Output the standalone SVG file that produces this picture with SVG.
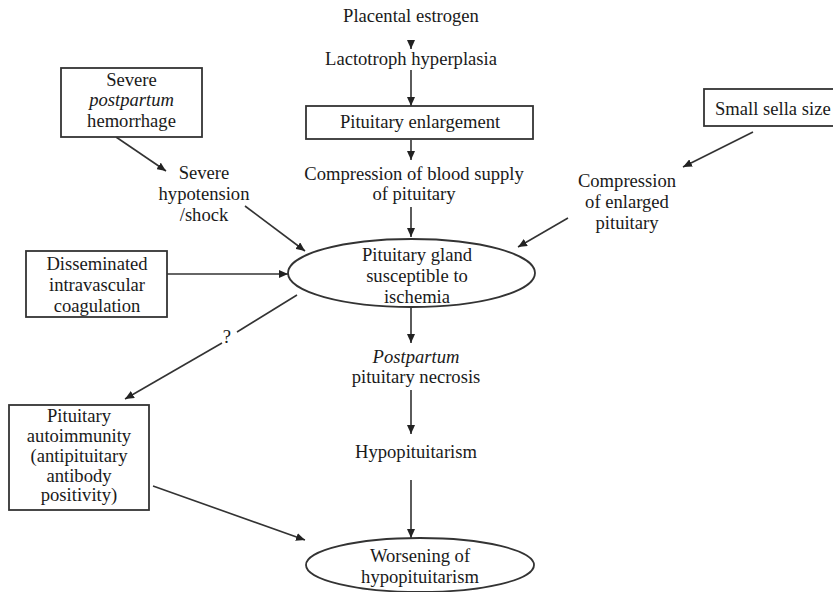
<svg xmlns="http://www.w3.org/2000/svg" width="833" height="592" viewBox="0 0 833 592">
<style>
text{font-family:"Liberation Serif","Times New Roman",serif;font-size:18.6px;fill:#1a1a1a;text-anchor:middle}
.i{font-style:italic}
.box{fill:#fff;stroke:#333;stroke-width:1.8}
.ell{fill:#fff;stroke:#333;stroke-width:1.8}
.c line{stroke:#333;stroke-width:1.6;marker-end:url(#ah)}
.c line.n{marker-end:none}
</style>
<defs>
<marker id="ah" markerUnits="userSpaceOnUse" markerWidth="10" markerHeight="8" refX="9" refY="4" orient="auto">
<path d="M0,0 L9,4 L0,8 z" fill="#222"/>
</marker>
</defs>
<rect width="833" height="592" fill="#fff"/>
<g class="c" id="connectors">
<line x1="411" y1="40" x2="411" y2="49"/>
<line x1="411" y1="70" x2="411" y2="106"/>
<line x1="411" y1="140" x2="411" y2="160"/>
<line x1="411" y1="207" x2="411" y2="237"/>
<line x1="411" y1="308" x2="411" y2="343"/>
<line x1="411" y1="390" x2="411" y2="434"/>
<line x1="411" y1="480" x2="411" y2="538"/>
<line x1="116" y1="137" x2="166" y2="171"/>
<line x1="245" y1="206" x2="305" y2="251"/>
<line x1="167" y1="274" x2="288" y2="274"/>
<line x1="753" y1="132" x2="683" y2="167"/>
<line x1="568" y1="218" x2="518" y2="247"/>
<line class="n" x1="297" y1="295" x2="237" y2="332"/>
<line x1="222" y1="343" x2="125" y2="399"/>
<line x1="153" y1="486" x2="305" y2="540"/>
<text x="227" y="343">?</text>
</g>
<g id="placental"><text x="411" y="22">Placental estrogen</text></g>
<g id="lactotroph"><text x="411" y="65">Lactotroph hyperplasia</text></g>
<g id="enlargement"><rect class="box" x="306" y="106" width="227" height="33"/><text x="420" y="128">Pituitary enlargement</text></g>
<g id="compression"><text x="414" y="180">Compression of blood supply</text><text x="414" y="200">of pituitary</text></g>
<g id="hemorrhage"><rect class="box" x="61" y="68" width="141" height="69"/><text x="131.5" y="86">Severe</text><text class="i" x="131.5" y="106">postpartum</text><text x="131.5" y="127">hemorrhage</text></g>
<g id="hypotension"><text x="204" y="179">Severe</text><text x="204" y="200">hypotension</text><text x="204" y="221">/shock</text></g>
<g id="sella"><rect class="box" x="704" y="89" width="140" height="37"/><text x="715" y="115" style="text-anchor:start">Small sella size</text></g>
<g id="compression2"><text x="627" y="187">Compression</text><text x="627" y="208">of enlarged</text><text x="627" y="229">pituitary</text></g>
<g id="dic"><rect class="box" x="26" y="251" width="141" height="66"/><text x="97" y="270">Disseminated</text><text x="97" y="291">intravascular</text><text x="97" y="312">coagulation</text></g>
<g id="ischemia"><ellipse class="ell" cx="411.5" cy="273" rx="123.5" ry="34"/><text x="417" y="261">Pituitary gland</text><text x="417" y="282">susceptible to</text><text x="417" y="303">ischemia</text></g>
<g id="necrosis"><text class="i" x="416" y="363">Postpartum</text><text x="416" y="383">pituitary necrosis</text></g>
<g id="hypo"><text x="416" y="458">Hypopituitarism</text></g>
<g id="autoimmunity"><rect class="box" x="9" y="405" width="140" height="105"/><text x="79" y="422">Pituitary</text><text x="79" y="442">autoimmunity</text><text x="79" y="462">(antipituitary</text><text x="79" y="482">antibody</text><text x="79" y="501">positivity)</text></g>
<g id="worsening"><ellipse class="ell" cx="420" cy="565" rx="114" ry="27"/><text x="420" y="562">Worsening of</text><text x="420" y="583">hypopituitarism</text></g>
</svg>
